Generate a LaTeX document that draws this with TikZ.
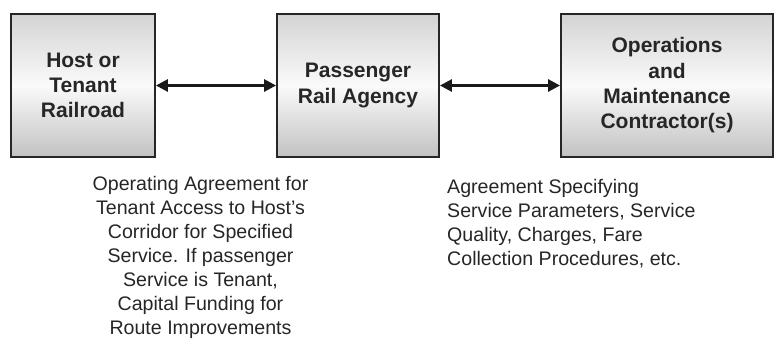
\documentclass[tikz,border=0pt]{standalone}
\usepackage{fontspec}
\setmainfont{Liberation Sans}
\usepackage{tikz}
\usetikzlibrary{arrows.meta}

\pgfdeclareverticalshading{boxband}{100bp}{color(0bp)=(black!24); color(25bp)=(black!24); color(50bp)=(black!2); color(75bp)=(black!17); color(100bp)=(black!17)}

\tikzset{
  party/.style={draw=black!85,line width=1.8pt,inner sep=0pt,align=center,
    shading=boxband,
    text=black!85,font=\bfseries\fontsize{21}{25.3}\selectfont},
  link/.style={line width=2.6pt,draw=black!90,
    {Triangle[length=12pt,width=12pt]}-{Triangle[length=12pt,width=12pt]}},
  terms/.style={inner sep=0pt,text=black!85,font=\fontsize{19.6}{24}\selectfont}
}

\begin{document}
\begin{tikzpicture}[x=1pt,y=-1pt]

\useasboundingbox (0,0) rectangle (775,338);

\node[party,minimum width=144pt,minimum height=143pt] (host) at (83,85.5) {Host or\\Tenant\\Railroad};
\node[party,minimum width=162pt,minimum height=143pt] (agency) at (358,85.5) {Passenger\\Rail Agency};
\node[party,minimum width=212pt,minimum height=143pt] (ops) at (667,85.5) {Operations\\and\\Maintenance\\Contractor(s)};

\draw[link] (host.east) -- (agency.west);
\draw[link] (agency.east) -- (ops.west);

\node[terms,align=center] (hostdeal) at (200.5,257) {Operating Agreement for\\Tenant Access to Host’s\\Corridor for Specified\\Service. If passenger\\Service is Tenant,\\Capital Funding for\\Route Improvements};
\node[terms,align=left,anchor=west] (opsdeal) at (447,224) {Agreement Specifying\\Service Parameters, Service\\Quality, Charges, Fare\\Collection Procedures, etc.};

\end{tikzpicture}
\end{document}
